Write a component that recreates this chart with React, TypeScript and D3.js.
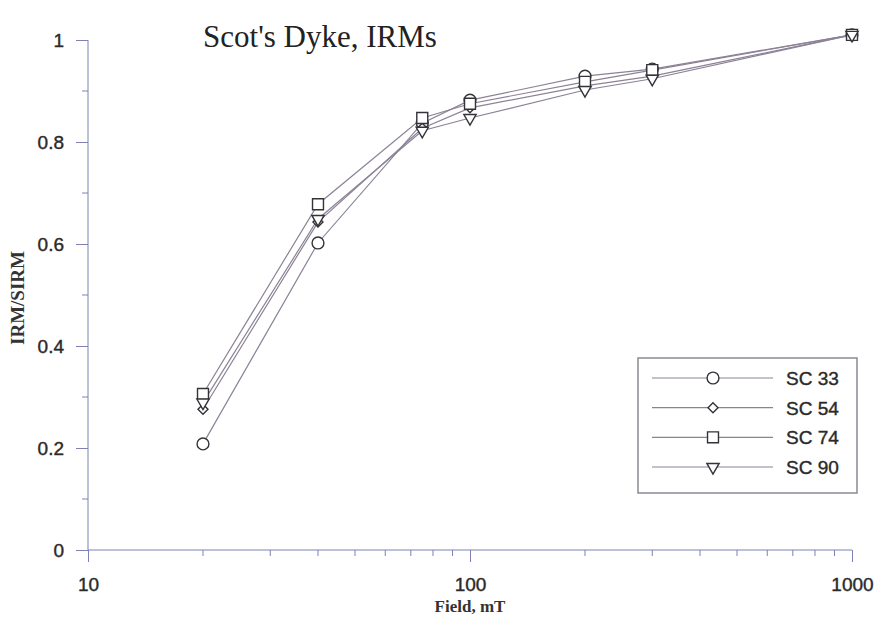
import React, { useEffect, useRef } from 'react';
import * as d3 from 'd3';

// field values (mT)
const fields = [20, 40, 75, 100, 200, 300, 1000];

// IRM/SIRM for each sample
const sc33 = [0.208, 0.602, 0.837, 0.882, 0.929, 0.943, 1.01];
const sc54 = [0.276, 0.643, 0.827, 0.867, 0.91, 0.929, 1.01];
const sc74 = [0.306, 0.678, 0.847, 0.875, 0.918, 0.941, 1.01];
const sc90 = [0.289, 0.649, 0.822, 0.847, 0.902, 0.924, 1.01];

const seriesNames = ['SC 33', 'SC 54', 'SC 74', 'SC 90'];
const yTicks = [0, 0.2, 0.4, 0.6, 0.8, 1];
const xTicks = [10, 100, 1000];

const App = () => {
  const ref = useRef<SVGSVGElement>(null);

  useEffect(() => {
    document.body.style.margin = '0';
    const svg = d3.select(ref.current);
    svg.selectAll('*').remove();

    const axisColor = '#7f80b4';
    const lineColor = '#8c8296';
    const markColor = '#333338';
    const textColor = '#2a2a2a';
    const sans = 'Liberation Sans, Arial, sans-serif';
    const serif = 'Liberation Serif, serif';

    const x = d3.scaleLog().domain([10, 1000]).range([88, 852]);
    const y = d3.scaleLinear().domain([0, 1]).range([550, 40]);

    const series = [
      { name: seriesNames[0], values: sc33, sym: d3.symbolCircle, size: 110, rot: 0 },
      { name: seriesNames[1], values: sc54, sym: d3.symbolSquare, size: 50, rot: 45 },
      { name: seriesNames[2], values: sc74, sym: d3.symbolSquare, size: 120, rot: 0 },
      { name: seriesNames[3], values: sc90, sym: d3.symbolTriangle, size: 65, rot: 180 },
    ];

    // title
    svg.append('text')
      .attr('x', 320).attr('y', 47)
      .attr('text-anchor', 'middle')
      .attr('font-family', serif)
      .attr('font-size', 31)
      .attr('fill', '#222')
      .text("Scot's Dyke, IRMs");

    // y axis
    const yAxis = svg.append('g').attr('transform', 'translate(88,0)')
      .call(d3.axisLeft(y).tickValues(yTicks).tickSize(12).tickPadding(12)
        .tickFormat(d => d3.format('')(d as number)));
    yAxis.select('.domain').attr('stroke', axisColor).attr('d', 'M0,40V550');
    yAxis.selectAll('.tick line').attr('stroke', axisColor);
    yAxis.selectAll('.tick text')
      .attr('font-family', sans)
      .attr('font-size', 19).attr('fill', textColor)
      .attr('stroke', textColor).attr('stroke-width', 0.4);
    d3.range(0.1, 1, 0.2).forEach(v => {
      svg.append('line').attr('x1', 82).attr('x2', 88)
        .attr('y1', y(v)).attr('y2', y(v)).attr('stroke', axisColor);
    });

    // x axis
    const xAxis = svg.append('g').attr('transform', 'translate(0,550)')
      .call(d3.axisBottom(x).tickValues(xTicks).tickSize(12).tickPadding(16)
        .tickFormat(d => String(d)));
    xAxis.select('.domain').attr('stroke', axisColor).attr('d', 'M88,0H852');
    xAxis.selectAll('.tick line').attr('stroke', axisColor);
    xAxis.selectAll('.tick text')
      .attr('font-family', sans)
      .attr('font-size', 19).attr('fill', textColor)
      .attr('stroke', textColor).attr('stroke-width', 0.4);
    const minors = x.ticks().filter(t => !xTicks.includes(t));
    svg.append('g').selectAll('line').data(minors).enter().append('line')
      .attr('x1', d => x(d)).attr('x2', d => x(d))
      .attr('y1', 550).attr('y2', 556).attr('stroke', axisColor);

    // axis titles
    svg.append('text')
      .attr('x', 470).attr('y', 612)
      .attr('text-anchor', 'middle')
      .attr('font-family', serif)
      .attr('font-size', 17).attr('font-weight', 'bold').attr('fill', '#333')
      .text('Field, mT');
    svg.append('text')
      .attr('transform', 'translate(24,298) rotate(-90)')
      .attr('text-anchor', 'middle')
      .attr('font-family', serif)
      .attr('font-size', 19).attr('font-weight', 'bold').attr('fill', '#333')
      .text('IRM/SIRM');

    // lines
    const line = d3.line<number>()
      .x((_, i) => x(fields[i]))
      .y(d => y(d));

    series.forEach(s => {
      svg.append('path')
        .datum(s.values)
        .attr('fill', 'none')
        .attr('stroke', lineColor)
        .attr('stroke-width', 1.2)
        .attr('d', line);
    });

    series.forEach(s => {
      const sym = d3.symbol().type(s.sym).size(s.size);
      svg.append('g').selectAll('path').data(s.values).enter().append('path')
        .attr('d', sym)
        .attr('transform', (d, i) => `translate(${x(fields[i])},${y(d)}) rotate(${s.rot})`)
        .attr('fill', 'white')
        .attr('stroke', markColor)
        .attr('stroke-width', 1.4);
    });

    // legend
    const lg = svg.append('g');
    lg.append('rect')
      .attr('x', 638).attr('y', 358).attr('width', 219).attr('height', 135)
      .attr('fill', 'white').attr('stroke', '#8a8a92').attr('stroke-width', 1.5);
    const rowY = d3.scalePoint<string>().domain(seriesNames).range([378, 467]);
    series.forEach(s => {
      const yy = rowY(s.name) as number;
      lg.append('line').attr('x1', 652).attr('x2', 773)
        .attr('y1', yy).attr('y2', yy)
        .attr('stroke', lineColor).attr('stroke-width', 1.2);
      lg.append('path')
        .attr('d', d3.symbol().type(s.sym).size(s.size)())
        .attr('transform', `translate(713,${yy}) rotate(${s.rot})`)
        .attr('fill', 'white').attr('stroke', markColor).attr('stroke-width', 1.4);
      lg.append('text')
        .attr('x', 786).attr('y', yy + 7)
        .attr('font-family', sans)
        .attr('font-size', 19).attr('fill', textColor)
        .attr('stroke', textColor).attr('stroke-width', 0.4)
        .text(s.name);
    });
  }, []);

  return <svg ref={ref} width={880} height={621} style={{ display: 'block', background: 'white' }}></svg>;
};

export default App;
